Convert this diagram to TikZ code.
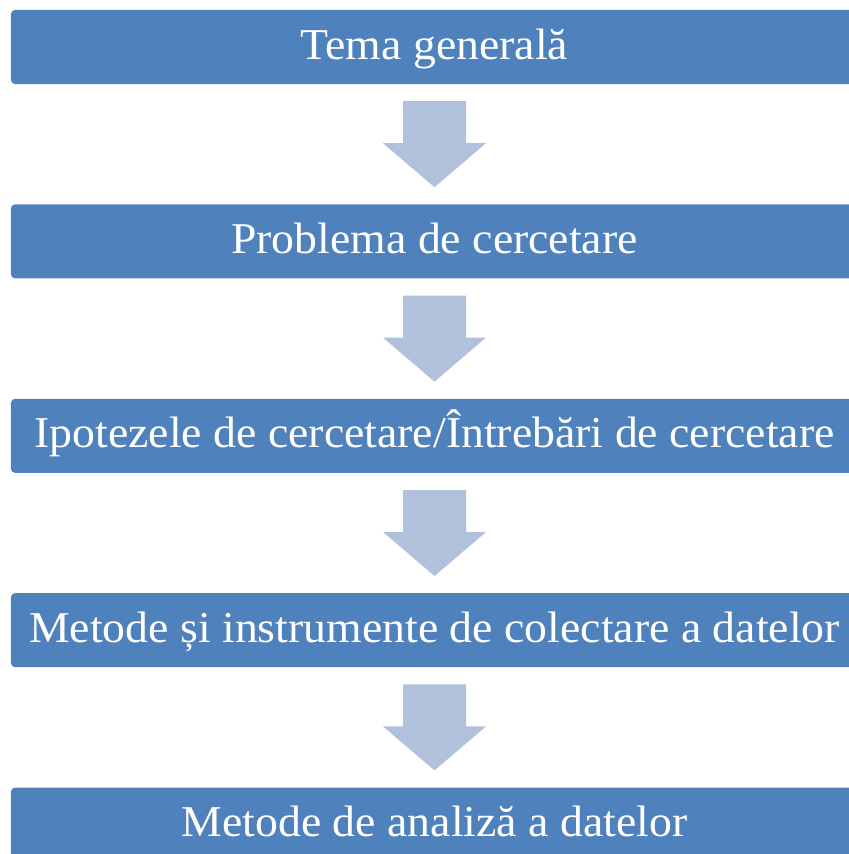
\documentclass[tikz,border=0pt]{standalone}
\usepackage{fontspec}
\setmainfont[FakeStretch=1.04]{Liberation Serif}
\usetikzlibrary{positioning,calc}

\definecolor{boxblue}{RGB}{79,129,189}
\definecolor{arrowblue}{RGB}{178,193,219}

\tikzset{
    stepbox/.style={rectangle,fill=boxblue,rounded corners=4bp,text=white,
        minimum width=847bp,minimum height=74bp,inner sep=0pt,
        text height=29bp,text depth=5bp,font=\fontsize{44bp}{50bp}\selectfont},
    flowarrow/.style={fill=arrowblue}
}

\begin{document}
\begin{tikzpicture}[x=1bp,y=-1bp]
    \clip (0,0) rectangle (849,854);
    \fill[white] (0,0) rectangle (849,854);

    \node[stepbox] (s1) at (434.5,47) {Tema generală};
    \node[stepbox,below=120bp of s1] (s2) {Problema de cercetare};
    \node[stepbox,below=120bp of s2] (s3) {Ipotezele de cercetare/Întrebări de cercetare};
    \node[stepbox,below=120bp of s3] (s4) {Metode și instrumente de colectare a datelor};
    \node[stepbox,below=120bp of s4] (s5) {Metode de analiză a datelor};

    \foreach \a/\b in {s1/s2,s2/s3,s3/s4,s4/s5} {
        \fill[flowarrow] ($(\a.south)+(-31.5,17)$) -- ++(63,0) -- ++(0,42) -- ++(20,0)
            -- ($(\b.north)+(0,-17)$) -- ++(-51.5,-44) -- ++(20,0) -- cycle;
    }
\end{tikzpicture}
\end{document}
